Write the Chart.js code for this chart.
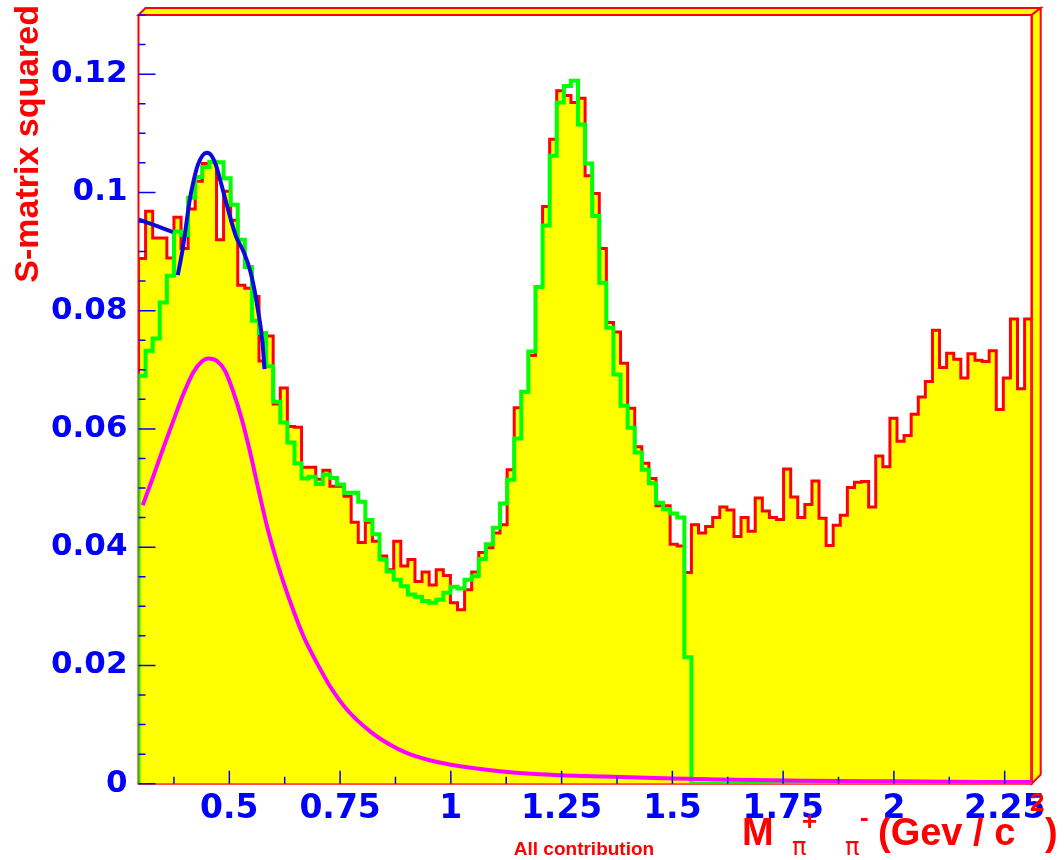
<!DOCTYPE html>
<html>
<head>
<meta charset="utf-8">
<script src="https://cdn.jsdelivr.net/npm/chart.js@4.4.1/dist/chart.umd.min.js"></script>
<style>
  html, body { margin: 0; padding: 0; background: #fff; }
</style>
</head>
<body>
<canvas id="myChart" width="1064" height="860"></canvas>
<script>
// histogram binning
const X_MIN = 0.295;
const BIN_W = 0.016;
const X_MAX = 2.311;

// all contribution (red outline, yellow fill), one value per bin
const allContribution = [
  0.0888, 0.0968, 0.0923, 0.0923, 0.0889, 0.0958, 0.0905, 0.0972, 0.1019, 0.1049,
  0.1051, 0.0920, 0.1002, 0.0953, 0.0843, 0.0838, 0.0824, 0.0715, 0.0757, 0.0642,
  0.0669, 0.0604, 0.0603, 0.0535, 0.0535, 0.0515, 0.0530, 0.0503, 0.0503, 0.0486,
  0.0442, 0.0408, 0.0442, 0.0410, 0.0385, 0.0362, 0.0410, 0.0368, 0.0379, 0.0342,
  0.0358, 0.0336, 0.0362, 0.0352, 0.0306, 0.0294, 0.0328, 0.0358, 0.0391, 0.0399,
  0.0424, 0.0438, 0.0531, 0.0636, 0.0663, 0.0724, 0.0840, 0.0976, 0.1090, 0.1172,
  0.1164, 0.1152, 0.1159, 0.1028, 0.0998, 0.0905, 0.0780, 0.0764, 0.0711, 0.0635,
  0.0570, 0.0542, 0.0516, 0.0470, 0.0470, 0.0405, 0.0402, 0.0357, 0.0438, 0.0424,
  0.0435, 0.0450, 0.0468, 0.0463, 0.0418, 0.0450, 0.0427, 0.0483, 0.0461, 0.0450,
  0.0447, 0.0532, 0.0485, 0.0450, 0.0472, 0.0512, 0.0449, 0.0403, 0.0437, 0.0454,
  0.0501, 0.0510, 0.0511, 0.0468, 0.0554, 0.0536, 0.0618, 0.0579, 0.0589, 0.0625,
  0.0654, 0.0680, 0.0767, 0.0704, 0.0728, 0.0718, 0.0686, 0.0727, 0.0716, 0.0714,
  0.0732, 0.0633, 0.0686, 0.0786, 0.0668, 0.0786
];

// green histogram, same bins
const greenHist = [
  0.0690, 0.0732, 0.0753, 0.0814, 0.0859, 0.0934, 0.0928, 0.0991, 0.1026, 0.1043,
  0.1052, 0.1051, 0.1024, 0.0979, 0.0920, 0.0874, 0.0783, 0.0762, 0.0706, 0.0646,
  0.0611, 0.0577, 0.0542, 0.0516, 0.0519, 0.0507, 0.0523, 0.0517, 0.0506, 0.0492,
  0.0492, 0.0477, 0.0446, 0.0422, 0.0379, 0.0359, 0.0345, 0.0334, 0.0320, 0.0316,
  0.0309, 0.0306, 0.0311, 0.0323, 0.0333, 0.0330, 0.0345, 0.0351, 0.0380, 0.0405,
  0.0433, 0.0474, 0.0514, 0.0584, 0.0663, 0.0731, 0.0840, 0.0944, 0.1062, 0.1152,
  0.1180, 0.1189, 0.1115, 0.1049, 0.0960, 0.0847, 0.0771, 0.0692, 0.0639, 0.0602,
  0.0560, 0.0531, 0.0508, 0.0475, 0.0464, 0.0457, 0.0450, 0.0214, 0, 0,
  0, 0, 0, 0, 0, 0, 0, 0, 0, 0,
  0, 0, 0, 0, 0, 0, 0, 0, 0, 0,
  0, 0, 0, 0, 0, 0, 0, 0, 0, 0,
  0, 0, 0, 0, 0, 0, 0, 0, 0, 0,
  0, 0, 0, 0, 0, 0
];

// blue curve (two pieces)
const blueX = [0.2955, 0.334, 0.3723, null, 0.3836, 0.3949, 0.4024, 0.4099, 0.4189, 0.4288, 0.4401, 0.4492,
  0.4589, 0.4702, 0.4815, 0.4928, 0.5041, 0.5154, 0.532, 0.549, 0.566, 0.575, 0.5794];
const blueY = [0.0954, 0.0944, 0.0933, null, 0.0860, 0.0905, 0.0944, 0.0984, 0.1018, 0.1046, 0.1063, 0.1067,
  0.1063, 0.1045, 0.1015, 0.0983, 0.0952, 0.0925, 0.0900, 0.0862, 0.0795, 0.0745, 0.0701];

// magenta curve
const magX = [0.3045, 0.3285, 0.3511, 0.3737, 0.3963, 0.4189, 0.4379, 0.4528, 0.4718, 0.4906, 0.5093,
  0.5283, 0.5471, 0.5659, 0.5849, 0.6036, 0.6224, 0.645, 0.6676, 0.6979, 0.728, 0.7657, 0.8184,
  0.86, 0.9, 0.95, 1.0, 1.1, 1.2, 1.3, 1.4, 1.5, 1.6, 1.8, 2.0, 2.2, 2.31];
const magY = [0.0471, 0.0520, 0.0568, 0.0614, 0.0659, 0.0696, 0.0714, 0.0719, 0.0715, 0.0698, 0.0662,
  0.0616, 0.0560, 0.0497, 0.0436, 0.0385, 0.0340, 0.0292, 0.0249, 0.0204, 0.0164, 0.0125, 0.0088,
  0.0067, 0.0052, 0.0040, 0.0032, 0.0022, 0.0016, 0.0013, 0.0011, 0.0009, 0.0007, 0.0005, 0.0004, 0.0003, 0.0003];

// axis ticks
const xMajor = [0.5, 0.75, 1, 1.25, 1.5, 1.75, 2, 2.25];
const xMinor = [0.375, 0.625, 0.875, 1.125, 1.375, 1.625, 1.875, 2.125];
const yMajor = [0, 0.02, 0.04, 0.06, 0.08, 0.1, 0.12];
const yMinorStep = 0.005;

const binEdges = [];
for (let i = 0; i <= allContribution.length; i++) binEdges.push(X_MIN + i * BIN_W);

function histPoints(vals) {
  let pts = [{x: binEdges[0], y: 0}];
  for (let i = 0; i < vals.length; i++) pts.push({x: binEdges[i], y: vals[i]});
  pts.push({x: binEdges[vals.length], y: vals[vals.length - 1]});
  pts.push({x: binEdges[vals.length], y: 0});
  return pts;
}
function curvePoints(xs, ys) {
  return xs.map((x, i) => ({x: x, y: ys[i]}));
}

const BLUE = '#0000ff';
const RED = '#ff0000';

const rootFrame = {
  id: 'rootFrame',
  beforeDatasetsDraw(chart) {
    const {ctx, chartArea: a} = chart;
    ctx.save();
    ctx.fillStyle = '#fff';
    ctx.fillRect(a.left, a.top, a.right - a.left, a.bottom - a.top);
    ctx.fillStyle = '#ffff00';
    ctx.strokeStyle = RED;
    ctx.lineWidth = 2;
    ctx.beginPath();
    ctx.moveTo(a.left, a.top); ctx.lineTo(a.left + 7, a.top - 7);
    ctx.lineTo(a.right + 9, a.top - 7); ctx.lineTo(a.right, a.top);
    ctx.closePath(); ctx.fill(); ctx.stroke();
    ctx.beginPath();
    ctx.moveTo(a.right, a.top); ctx.lineTo(a.right + 9, a.top - 7);
    ctx.lineTo(a.right + 9, a.bottom - 9); ctx.lineTo(a.right, a.bottom);
    ctx.closePath(); ctx.fill(); ctx.stroke();
    ctx.strokeRect(a.left, a.top, a.right - a.left, a.bottom - a.top);
    ctx.restore();
  },
  afterDatasetsDraw(chart) {
    const {ctx, chartArea: a, scales: {x, y}} = chart;
    ctx.save();
    ctx.strokeStyle = BLUE;
    ctx.lineWidth = 1.5;
    ctx.beginPath();
    xMajor.forEach(v => { const px = x.getPixelForValue(v); ctx.moveTo(px, a.bottom); ctx.lineTo(px, a.bottom - 13); });
    xMinor.forEach(v => { const px = x.getPixelForValue(v); ctx.moveTo(px, a.bottom); ctx.lineTo(px, a.bottom - 7); });
    for (let k = 0; k * yMinorStep <= 0.13; k++) {
      const py = y.getPixelForValue(k * yMinorStep);
      ctx.moveTo(a.left, py); ctx.lineTo(a.left + (k % 4 === 0 ? 17 : 7), py);
    }
    ctx.stroke();
    ctx.restore();
  },
  afterDraw(chart) {
    const ctx = chart.ctx;
    ctx.save();
    ctx.fillStyle = RED;
    // y title
    ctx.save();
    ctx.translate(38, 5);
    ctx.rotate(-Math.PI / 2);
    ctx.font = 'bold 34px "Liberation Sans"';
    ctx.textAlign = 'right';
    ctx.textBaseline = 'alphabetic';
    ctx.fillText('S-matrix squared', 0, 0);
    ctx.restore();
    // x title: M pi+ pi- (Gev / c2)
    ctx.textAlign = 'left';
    ctx.textBaseline = 'alphabetic';
    ctx.font = 'bold 38px "Liberation Sans"';
    ctx.fillText('M', 742, 845);
    ctx.font = '24px "DejaVu Sans"';
    ctx.fillText('π', 792, 855);
    ctx.fillText('π', 845, 855);
    ctx.font = 'bold 26px "Liberation Sans"';
    ctx.fillText('+', 802, 830);
    ctx.fillText('-', 860, 826);
    ctx.font = 'bold 38px "Liberation Sans"';
    ctx.fillText('(Gev / c', 878, 845);
    ctx.fillText(')', 1045, 845);
    ctx.font = 'bold 26px "Liberation Sans"';
    ctx.fillText('2', 1030, 811);
    // caption
    ctx.font = 'bold 19px "Liberation Sans"';
    ctx.textAlign = 'center';
    ctx.fillText('All contribution', 584, 855);
    ctx.restore();
  }
};

const ctx = document.getElementById('myChart');
const myChart = new Chart(ctx, {
  type: 'line',
  data: {
    datasets: [
      {
        data: curvePoints(magX, magY),
        borderColor: '#ff00ff', borderWidth: 4, pointRadius: 0,
        cubicInterpolationMode: 'monotone', fill: false, order: 1
      },
      {
        data: curvePoints(blueX, blueY),
        borderColor: '#0a0adc', borderWidth: 4, pointRadius: 0,
        cubicInterpolationMode: 'monotone', spanGaps: false, fill: false, order: 2
      },
      {
        data: histPoints(greenHist),
        borderColor: '#00ff00', borderWidth: 4, pointRadius: 0,
        stepped: 'before', fill: false, order: 3
      },
      {
        data: histPoints(allContribution),
        borderColor: RED, backgroundColor: '#ffff00', borderWidth: 3, pointRadius: 0,
        stepped: 'before', fill: 'origin', order: 4
      }
    ]
  },
  options: {
    responsive: false,
    animation: false,
    devicePixelRatio: 1,
    layout: { padding: { left: 0, right: 32.3, top: 15, bottom: 0 } },
    plugins: { legend: { display: false }, tooltip: { enabled: false } },
    scales: {
      x: {
        type: 'linear', min: X_MIN, max: X_MAX,
        afterBuildTicks: s => { s.ticks = xMajor.map(v => ({value: v})); },
        afterFit: s => { s.height = 76.3; s.paddingLeft = 0; s.paddingRight = 0; },
        grid: { display: false, drawTicks: false },
        border: { display: false },
        ticks: {
          color: BLUE, padding: 6, maxRotation: 0, autoSkip: false,
          font: { family: 'DejaVu Sans', weight: 'bold', size: 33 },
          callback: v => String(Number(v.toFixed(3)))
        }
      },
      y: {
        type: 'linear', min: 0, max: 0.13,
        afterBuildTicks: s => { s.ticks = yMajor.map(v => ({value: v})); },
        afterFit: s => { s.width = 138.5; s.paddingTop = 0; s.paddingBottom = 0; },
        grid: { display: false, drawTicks: false },
        border: { display: false },
        ticks: {
          color: BLUE, padding: 11, autoSkip: false,
          font: { family: 'DejaVu Sans', weight: 'bold', size: 31 },
          callback: v => String(Number(v.toFixed(3)))
        }
      }
    }
  },
  plugins: [rootFrame]
});
</script>
</body>
</html>
